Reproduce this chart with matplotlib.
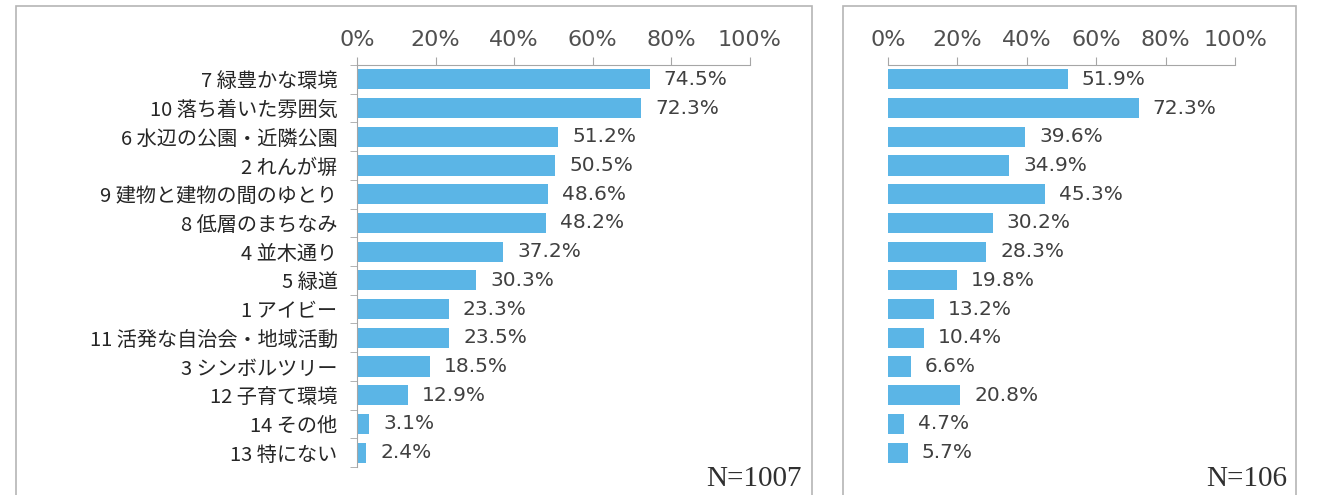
import matplotlib

matplotlib.use("Agg")
import matplotlib.pyplot as plt
from matplotlib.patches import Rectangle
from matplotlib.ticker import FixedLocator, FuncFormatter
import numpy as np

plt.rcParams["font.family"] = ["DejaVu Sans", "Noto Sans CJK JP"]

categories = [
    "7 緑豊かな環境",
    "10 落ち着いた雰囲気",
    "6 水辺の公園・近隣公園",
    "2 れんが塀",
    "9 建物と建物の間のゆとり",
    "8 低層のまちなみ",
    "4 並木通り",
    "5 緑道",
    "1 アイビー",
    "11 活発な自治会・地域活動",
    "3 シンボルツリー",
    "12 子育て環境",
    "14 その他",
    "13 特にない",
]
left_values = [74.5, 72.3, 51.2, 50.5, 48.6, 48.2, 37.2, 30.3, 23.3, 23.5, 18.5, 12.9, 3.1, 2.4]
right_values = [51.9, 72.3, 39.6, 34.9, 45.3, 30.2, 28.3, 19.8, 13.2, 10.4, 6.6, 20.8, 4.7, 5.7]
left_n = "N=1007"
right_n = "N=106"
x_ticks = [0, 20, 40, 60, 80, 100]

W, H = 1319, 495
BAR = "#5BB5E6"
TXT = "#404040"
AXC = "#A6A6A6"


def px_axes(fig, x0, x1, y0, y1):
    return fig.add_axes([x0 / W, 1 - y1 / H, (x1 - x0) / W, (y1 - y0) / H])


def panel(ax, values, show_labels):
    y = np.arange(len(values))
    ax.barh(y, values, height=0.70, color=BAR, zorder=2)
    for yi, v in zip(y, values):
        ax.annotate(f"{v:.1f}%", (v, yi), textcoords="offset points",
                    xytext=(10, 0), va="center", ha="left",
                    fontsize=14.5, color=TXT)
    ax.set_xlim(0, 100)
    ax.set_ylim(len(values) - 0.5, -0.5)
    ax.xaxis.tick_top()
    ax.set_xticks(x_ticks)
    ax.xaxis.set_major_formatter(FuncFormatter(lambda v, p: f"{v:.0f}%"))
    ax.tick_params(axis="x", length=6, color=AXC, labelsize=16,
                   labelcolor="#505050", pad=5)
    for s in ["right", "bottom"]:
        ax.spines[s].set_visible(False)
    ax.spines["top"].set_color(AXC)
    ax.patch.set_alpha(0)
    if show_labels:
        ax.spines["left"].set_color(AXC)
        ax.set_yticks(y)
        ax.set_yticklabels(categories, fontsize=14.5, color="#262626",
                           family=["Noto Sans CJK JP", "DejaVu Sans"])
        ax.yaxis.set_minor_locator(FixedLocator(np.arange(len(values) + 1) - 0.5))
        ax.tick_params(axis="y", which="major", length=0, pad=14)
        ax.tick_params(axis="y", which="minor", length=5, color=AXC)
    else:
        ax.spines["left"].set_visible(False)
        ax.set_yticks([])


fig = plt.figure(figsize=(W / 100, H / 100), dpi=100)
fig.patch.set_facecolor("white")

# frames around the two panels
for x0, x1 in [(16, 812), (843, 1296)]:
    fig.patches.append(Rectangle((x0 / W, -0.05), (x1 - x0) / W, 1 - 6 / H + 0.05,
                                 transform=fig.transFigure, fill=False,
                                 edgecolor="#B5B5B5", linewidth=1.2))

ax1 = px_axes(fig, 357, 750, 65, 467)
panel(ax1, left_values, True)
ax2 = px_axes(fig, 888, 1235, 65, 467)
panel(ax2, right_values, False)

fig.text(802 / W, 1 - 486 / H, left_n, ha="right", va="baseline",
         fontsize=21, color="#303030", family="Liberation Serif")
fig.text(1287 / W, 1 - 486 / H, right_n, ha="right", va="baseline",
         fontsize=21, color="#303030", family="Liberation Serif")

fig.savefig("out.png", dpi=100)
